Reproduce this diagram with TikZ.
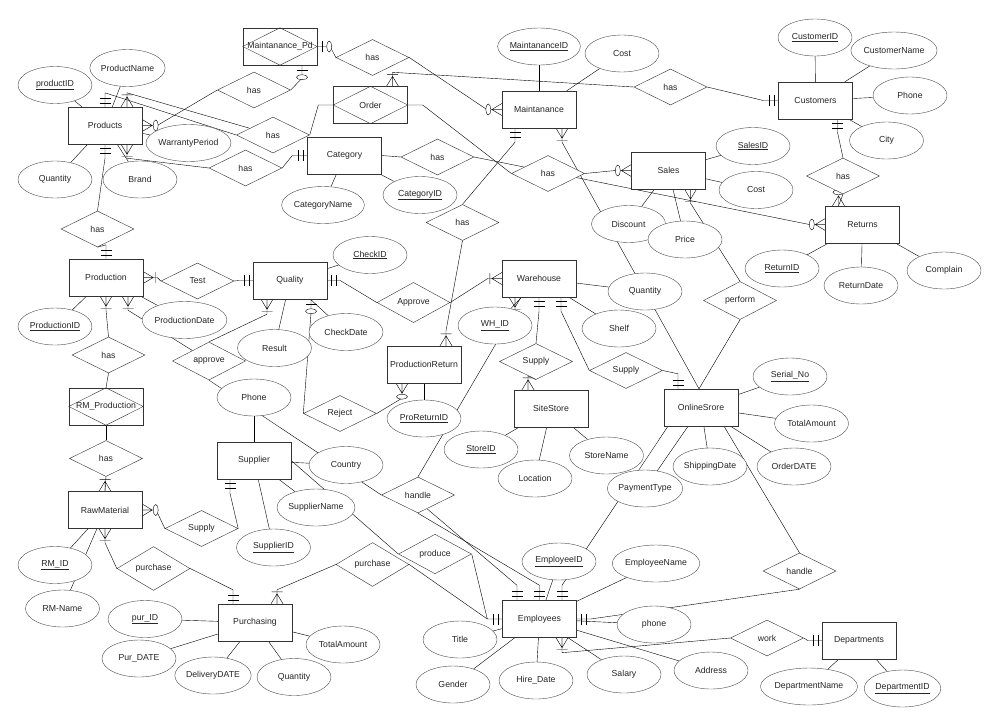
\documentclass[tikz,border=0pt]{standalone}
\usepackage{fontspec}
\setmainfont{Liberation Sans}
\usetikzlibrary{shapes.geometric}
\pgfdeclarelayer{bg}
\pgfsetlayers{bg,main}
\newcommand{\mkOne}[2]{\draw[shift={(#1)},rotate=#2] (4,-5.5)--(4,5.5) (9,-5.5)--(9,5.5);}
\newcommand{\mkMany}[2]{\draw[shift={(#1)},rotate=#2] (0,-6)--(10,0)--(0,6) (0,0)--(10,0) (12,-5.5)--(12,5.5);}
\newcommand{\mkZMany}[2]{\draw[shift={(#1)},rotate=#2] (0,-6)--(10,0)--(0,6) (0,0)--(10,0);\draw[shift={(#1)},rotate=#2,fill=white] (13.5,0) ellipse [x radius=2.5,y radius=5.5];}
\newcommand{\mkZOne}[2]{\draw[shift={(#1)},rotate=#2] (5,-5.5)--(5,5.5);\draw[shift={(#1)},rotate=#2,fill=white] (12,0) ellipse [x radius=2.5,y radius=5.5];}
\begin{document}
\begin{tikzpicture}[x=1pt,y=-1pt,color=black!80,line width=0.7,
  every node/.style={font=\fontsize{8.7}{10}\selectfont,text=black!85},
  ent/.style={draw=black!80,rectangle,minimum width=74,minimum height=37,inner sep=0,fill=white},
  attr/.style={draw=black!70,ellipse,minimum width=74,minimum height=37,inner sep=0,fill=white},
  rel/.style={draw=black!80,diamond,minimum width=73,minimum height=36,inner sep=0,fill=white}]
\begin{pgfonlayer}{bg}
\fill[white] (0,0) rectangle (1000,726);
\end{pgfonlayer}
\useasboundingbox (0,0) rectangle (1000,726);
% entities
\node[ent] (prod) at (105,125.5) {Products};
\node[ent] (cat) at (344.5,155.5) {Category};
\node[ent] (maint) at (539,109.5) {Maintanance};
\node[ent] (sales) at (668.5,170.5) {Sales};
\node[ent] (cust) at (815.5,100.5) {Customers};
\node[ent] (ret) at (862.5,224.5) {Returns};
\node[ent] (prodn) at (106,277.5) {Production};
\node[ent] (qual) at (290,280.5) {Quality};
\node[ent] (wh) at (539,278.5) {Warehouse};
\node[ent] (pret) at (424,364.5) {ProductionReturn};
\node[ent] (site) at (551,408.5) {SiteStore};
\node[ent] (online) at (701,407.5) {OnlineSrore};
\node[ent] (supp) at (254,460.5) {Supplier};
\node[ent] (raw) at (105,510) {RawMaterial};
\node[ent] (purch) at (255,622.5) {Purchasing};
\node[ent] (emp) at (539.5,619) {Employees};
\node[ent] (dept) at (859,640.5) {Departments};
% associative entities
\node[ent] (mpd) at (280,46.5) {};
\node[ent] (order) at (370.5,105) {};
\node[ent] (rmp) at (106,406.5) {};
\foreach \n in {mpd,order,rmp} \draw (\n.north)--(\n.east)--(\n.south)--(\n.west)--cycle;
\node at (mpd) {Maintanance\_Pd};
\node at (order) {Order};
\node at (rmp) {RM\_Production};
% relationships
\node[rel] (r1) at (372.5,57.5) {has};
\node[rel] (r2) at (254,90) {has};
\node[rel] (r3) at (273,135) {has};
\node[rel] (r4) at (245.5,168) {has};
\node[rel] (r5) at (437.5,157) {has};
\node[rel] (r6) at (462.5,222.5) {has};
\node[rel] (r7) at (548,173.5) {has};
\node[rel] (r8) at (670.5,87) {has};
\node[rel] (r9) at (843,176) {has};
\node[rel] (r10) at (97.5,229) {has};
\node[rel] (test) at (197.5,281) {Test};
\node[rel] (apU) at (413.5,302.5) {Approve};
\node[rel] (apL) at (209,361) {approve};
\node[rel] (rej) at (340,413.5) {Reject};
\node[rel] (r11) at (108.5,355) {has};
\node[rel] (r12) at (106,458.5) {has};
\node[rel] (supR) at (201.5,528.5) {Supply};
\node[rel] (pu1) at (153.5,568.5) {purchase};
\node[rel] (pu2) at (372.5,564.5) {purchase};
\node[rel] (prd) at (435,554) {produce};
\node[rel] (hL) at (418,495) {handle};
\node[rel] (suS) at (536,361.5) {Supply};
\node[rel] (suO) at (626,370.5) {Supply};
\node[rel] (perf) at (740,300.5) {perform};
\node[rel] (hR) at (799.5,571) {handle};
\node[rel] (wk) at (767,638) {work};
% attributes
\node[attr] (p1) at (55,85) {\underline{productID}};
\node[attr] (p2) at (127.5,68) {ProductName};
\node[attr] (p3) at (188.5,143) {WarrantyPeriod};
\node[attr] (p4) at (55,179.5) {Quantity};
\node[attr] (p5) at (140,179.5) {Brand};
\node[attr] (c1) at (323,205) {CategoryName};
\node[attr] (c2) at (420,195) {\underline{CategoryID}};
\node[attr] (m1) at (539,46.5) {\underline{MaintananceID}};
\node[attr] (m2) at (622,53.5) {Cost};
\node[attr] (u1) at (815,37.5) {\underline{CustomerID}};
\node[attr] (u2) at (894,50.5) {CustomerName};
\node[attr] (u3) at (910,95.5) {Phone};
\node[attr] (u4) at (886.5,140.5) {City};
\node[attr] (s1) at (753,146) {\underline{SalesID}};
\node[attr] (s2) at (756,190) {Cost};
\node[attr] (s3) at (628.5,224) {Discount};
\node[attr] (s4) at (685,239.5) {Price};
\node[attr] (t1) at (782,268.5) {\underline{ReturnID}};
\node[attr] (t2) at (861,285.5) {ReturnDate};
\node[attr] (t3) at (944,270.5) {Complain};
\node[attr] (n1) at (55,326.5) {\underline{ProductionID}};
\node[attr] (n2) at (184.5,320) {ProductionDate};
\node[attr] (q1) at (370,255) {\underline{CheckID}};
\node[attr] (q2) at (274.5,348) {Result};
\node[attr] (q3) at (346,332) {CheckDate};
\node[attr] (v1) at (254,397.5) {Phone};
\node[attr] (v2) at (346,465) {Country};
\node[attr] (v3) at (316,507.5) {SupplierName};
\node[attr] (v4) at (273.5,547.5) {\underline{SupplierID}};
\node[attr] (w1) at (495,325.5) {\underline{WH\_ID}};
\node[attr] (w2) at (645,291.5) {Quantity};
\node[attr] (w3) at (619,328.5) {Shelf};
\node[attr] (x1) at (424,418.5) {\underline{ProReturnID}};
\node[attr] (y1) at (481,449.5) {\underline{StoreID}};
\node[attr] (y2) at (535,478.5) {Location};
\node[attr] (y3) at (606.5,455.5) {StoreName};
\node[attr] (o1) at (710,466.5) {ShippingDate};
\node[attr] (o2) at (645,488.5) {PaymentType};
\node[attr] (o3) at (790,376.5) {\underline{Serial\_No}};
\node[attr] (o4) at (811.5,423.5) {TotalAmount};
\node[attr] (o5) at (794,466.5) {OrderDATE};
\node[attr] (k1) at (55,565) {\underline{RM\_ID}};
\node[attr] (k2) at (62.5,608.5) {RM-Name};
\node[attr] (h1) at (145,619) {\underline{pur\_ID}};
\node[attr] (h2) at (139,658.5) {Pur\_DATE};
\node[attr] (h3) at (213,675.5) {DeliveryDATE};
\node[attr] (h4) at (294,677) {Quantity};
\node[attr] (h5) at (343,644.5) {TotalAmount};
\node[attr] (e1) at (460,639.5) {Title};
\node[attr] (e2) at (453,684.5) {Gender};
\node[attr] (e3) at (536,680.5) {Hire\_Date};
\node[attr] (e4) at (624,674.5) {Salary};
\node[attr] (e5) at (711,670.5) {Address};
\node[attr] (e6) at (654,624.5) {phone};
\node[attr] (e7) at (559,561.5) {\underline{EmployeeID}};
\node[attr] (e8) at (656,563.5) {EmployeeName};
\node[attr] (d1) at (809,686.5) {DepartmentName};
\node[attr] (d2) at (902.5,688.5) {\underline{DepartmentID}};
\begin{pgfonlayer}{bg}
\foreach \a/\e in {p1/prod,p2/prod,p3/prod,p4/prod,p5/prod,c1/cat,c2/cat,m1/maint,m2/maint,
  u1/cust,u2/cust,u3/cust,u4/cust,s1/sales,s2/sales,s3/sales,s4/sales,t1/ret,t2/ret,t3/ret,
  n1/prodn,n2/prodn,q1/qual,q2/qual,q3/qual,v1/supp,v2/supp,v3/supp,v4/supp,w1/wh,w2/wh,w3/wh,
  x1/pret,y1/site,y2/site,y3/site,o1/online,o2/online,o3/online,o4/online,o5/online,k1/raw,k2/raw,
  h1/purch,h2/purch,h3/purch,h4/purch,h5/purch,e1/emp,e2/emp,e3/emp,e4/emp,e5/emp,e6/emp,e7/emp,e8/emp,
  d1/dept,d2/dept} \draw (\a) -- (\e);
% mpd - r1 - maint
\draw (mpd.east) -- ([xshift=13]mpd.east) -- (r1.west);
\mkZOne{mpd.east}{0}
\draw (r1.east) -- ([xshift=-15]maint.west) -- (maint.west);
\mkZMany{maint.west}{180}
% prod - r2 - mpd
\draw (prod.east) -- ([xshift=15]prod.east) -- (r2.west);
\mkZMany{prod.east}{0}
\draw (r2.east) -- ([xshift=22,yshift=-13]mpd.south) -- ([xshift=22]mpd.south);
\mkZOne{[xshift=22]mpd.south}{-90}
% prod - r3 - order
\draw ([xshift=22]prod.north) -- ([xshift=22,yshift=14]prod.north) -- (r3);
\mkMany{[xshift=22]prod.north}{90}
\draw (prod.north) -- ([yshift=14]prod.north) -- (r3.west);
\mkOne{prod.north}{90}
\draw (r3.east) -- ([xshift=-15]order.west) -- (order.west);
% prod - r4 - cat
\draw ([xshift=22]prod.south) -- ([xshift=22,yshift=-14]prod.south) -- (r4.west);
\mkMany{[xshift=22]prod.south}{-90}
\draw (r4.east) -- ([xshift=-15]cat.west) -- (cat.west);
\mkOne{cat.west}{180}
% cat - r5 - ret
\draw (cat.east) -- (r5.west);
\draw (r5.east) -- ([xshift=-16]ret.west) -- (ret.west);
\mkZMany{ret.west}{180}
% maint - r6 - pret
\draw ([xshift=-24]maint.south) -- ([xshift=-24,yshift=-14]maint.south) -- (r6.north);
\mkOne{[xshift=-24]maint.south}{-90}
\draw (r6.south) -- ([xshift=22,yshift=15]pret.north) -- ([xshift=22]pret.north);
\mkMany{[xshift=22]pret.north}{90}
% order - r7 - sales
\draw (order.east) -- ([xshift=15]order.east) -- (r7.west);
\draw (r7.east) -- ([xshift=-16]sales.west) -- (sales.west);
\mkZMany{sales.west}{180}
% order - r8 - cust
\draw ([xshift=22]order.north) -- ([xshift=22,yshift=14]order.north) -- (r8.west);
\mkMany{[xshift=22]order.north}{90}
\draw (r8.east) -- ([xshift=-15]cust.west) -- (cust.west);
\mkOne{cust.west}{180}
% cust - r9 - ret
\draw ([xshift=22]cust.south) -- ([xshift=22,yshift=-13]cust.south) -- (r9.north);
\mkOne{[xshift=22]cust.south}{-90}
\draw (r9.south) -- ([xshift=-24]ret.north);
\mkZMany{[xshift=-24]ret.north}{90}
% prod - r10 - prodn
\draw (prod.south) -- ([yshift=-14]prod.south) -- (r10.north);
\mkOne{prod.south}{-90}
\draw (r10.south) -- ([yshift=14]prodn.north) -- (prodn.north);
\mkOne{prodn.north}{90}
% prodn - test - qual
\draw (prodn.east) -- ([xshift=14]prodn.east) -- (test.west);
\mkMany{prodn.east}{0}
\draw (test.east) -- ([xshift=-14]qual.west) -- (qual.west);
\mkOne{qual.west}{180}
% qual - Approve - wh
\draw (qual.east) -- ([xshift=13]qual.east) -- (apU.west);
\mkOne{qual.east}{0}
\draw (apU.east) -- ([xshift=-14]wh.west) -- (wh.west);
\mkMany{wh.west}{180}
% prodn - approve - qual
\draw ([xshift=22]prodn.south) -- ([xshift=22,yshift=-14]prodn.south) -- (apL);
\mkMany{[xshift=22]prodn.south}{-90}
\draw (apL.north) -- ([xshift=-23,yshift=-15]qual.south) -- ([xshift=-23]qual.south);
\mkMany{[xshift=-23]qual.south}{-90}
\draw (apL.south) -- (hL.west);
% qual - reject - pret
\draw ([xshift=21]qual.south) -- ([xshift=21,yshift=-14]qual.south) -- (rej.west);
\mkZOne{[xshift=21]qual.south}{-90}
\draw (rej.east) -- ([xshift=-22,yshift=-15]pret.south) -- ([xshift=-22]pret.south);
\mkZMany{[xshift=-22]pret.south}{-90}
% prodn - r11 - rmp - r12 - raw
\draw (prodn.south) -- ([yshift=-14]prodn.south) -- (r11.north);
\mkMany{prodn.south}{-90}
\draw (r11.south) -- (rmp.north);
\draw (rmp.south) -- (r12.north);
\draw (r12.south) -- (raw.north);
\mkMany{raw.north}{90}
% raw - supply - supp
\draw (raw.east) -- ([xshift=14]raw.east) -- (supR.west);
\mkZMany{raw.east}{0}
\draw (supR.east) -- ([xshift=-24,yshift=-14]supp.south) -- ([xshift=-24]supp.south);
\mkOne{[xshift=-24]supp.south}{-90}
% raw - purchase - purch
\draw (raw.south) -- ([yshift=-14]raw.south) -- (pu1.west);
\mkMany{raw.south}{-90}
\draw (pu1.east) -- ([xshift=-22,yshift=14]purch.north) -- ([xshift=-22]purch.north);
\mkOne{[xshift=-22]purch.north}{90}
% purch - purchase - emp
\draw ([xshift=22]purch.north) -- ([xshift=22,yshift=14]purch.north) -- (pu2.west);
\mkMany{[xshift=22]purch.north}{90}
\draw (pu2.east) -- ([xshift=-15]emp.west) -- (emp.west);
\mkOne{emp.west}{180}
% supp - produce - emp
\draw (supp.east) -- (prd.west);
\draw (prd.east) -- ([xshift=-15]emp.west);
% wh - handle - emp
\draw ([xshift=-24]wh.south) -- ([xshift=-24,yshift=-14]wh.south) -- (hL.north);
\mkMany{[xshift=-24]wh.south}{-90}
\draw (hL.south) -- ([yshift=15]emp.north) -- (emp.north);
\mkOne{emp.north}{90}
\draw ([xshift=9,yshift=4.5]hL.south) -- ([xshift=-22.5,yshift=15]emp.north) -- ([xshift=-22.5]emp.north);
\mkOne{[xshift=-22.5]emp.north}{90}
% online - emp
\draw ([xshift=-33]online.south) -- ([xshift=22.5,yshift=15]emp.north) -- ([xshift=22.5]emp.north);
\mkOne{[xshift=22.5]emp.north}{90}
% emp - handle - online
\draw (emp.east) -- ([xshift=14]emp.east) -- (hR.south);
\mkOne{emp.east}{0}
\draw (hR.north) -- ([xshift=23]online.south);
% emp - work - dept
\draw ([xshift=22.5]emp.south) -- ([xshift=22.5,yshift=-15]emp.south) -- (wk.west);
\mkMany{[xshift=22.5]emp.south}{-90}
\draw (wk.east) -- ([xshift=-14]dept.west) -- (dept.west);
\mkOne{dept.west}{180}
% wh - supply - site
\draw (wh.south) -- ([yshift=-14]wh.south) -- (suS.north);
\mkOne{wh.south}{-90}
\draw (suS.south) -- ([xshift=-23,yshift=14]site.north) -- ([xshift=-23]site.north);
\mkMany{[xshift=-23]site.north}{90}
% wh - supply - online
\draw ([xshift=22]wh.south) -- ([xshift=22,yshift=-14]wh.south) -- (suO.west);
\mkOne{[xshift=22]wh.south}{-90}
\draw (suO.east) -- ([xshift=-23,yshift=15]online.north) -- ([xshift=-23]online.north);
\mkOne{[xshift=-23]online.north}{90}
% maint - online
\draw ([xshift=23]maint.south) -- ([xshift=23,yshift=-14]maint.south) -- ([xshift=-2]online.north);
\mkMany{[xshift=23]maint.south}{-90}
% sales - perform - online
\draw ([xshift=22]sales.south) -- ([xshift=22,yshift=-14]sales.south) -- (perf.north);
\mkMany{[xshift=22]sales.south}{-90}
\draw (perf.south) -- ([xshift=-2]online.north);
\end{pgfonlayer}
\end{tikzpicture}
\end{document}
